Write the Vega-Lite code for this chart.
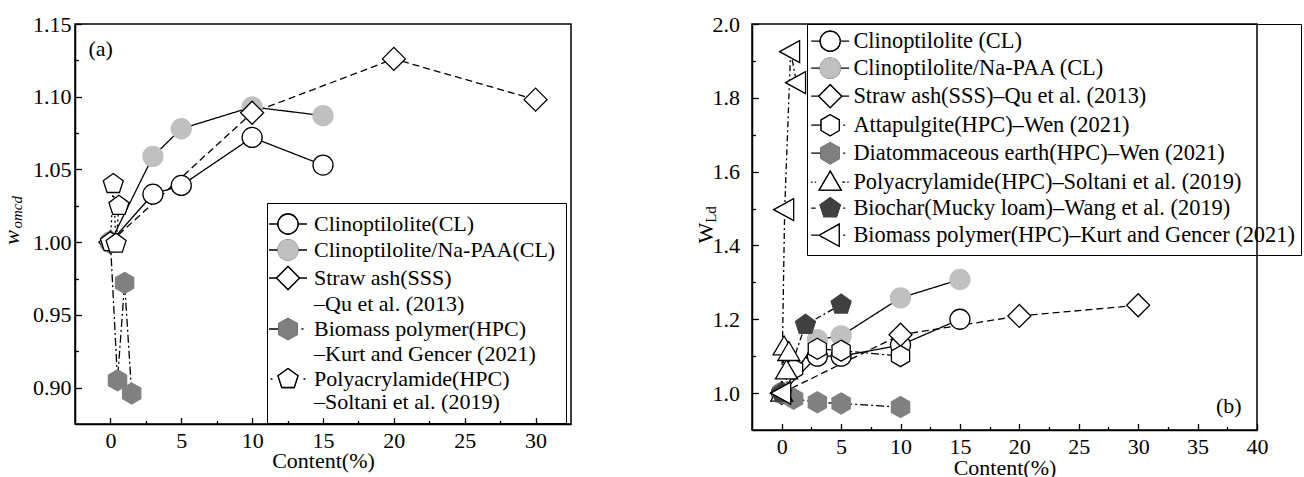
{
  "$schema": "https://vega.github.io/schema/vega-lite/v6.json",
  "background": "white",
  "padding": {"left": 0, "top": 12, "right": 0, "bottom": 0},
  "spacing": 122,
  "config": {
    "font": "Liberation Serif",
    "view": {"stroke": "black", "strokeWidth": 1.5},
    "axis": {
      "domainColor": "black", "domainWidth": 1.5,
      "tickColor": "black", "tickWidth": 1.3,
      "labelColor": "black", "labelFont": "Liberation Serif", "labelFontSize": 22,
      "titleColor": "black", "titleFont": "Liberation Serif", "titleFontSize": 22, "titleFontWeight": "normal",
      "grid": false, "labelFlush": false, "labelOverlap": false
    },
    "legend": {"labelFont": "Liberation Serif", "labelColor": "black", "labelLimit": 0, "title": null},
    "text": {"font": "Liberation Serif", "color": "black"}
  },
  "datasets": {
    "a": [
      {"series": "Clinoptilolite(CL)", "content": 0, "w": 1.0},
      {"series": "Clinoptilolite(CL)", "content": 3, "w": 1.033},
      {"series": "Clinoptilolite(CL)", "content": 5, "w": 1.039},
      {"series": "Clinoptilolite(CL)", "content": 10, "w": 1.072},
      {"series": "Clinoptilolite(CL)", "content": 15, "w": 1.053},
      {"series": "Clinoptilolite/Na-PAA(CL)", "content": 0, "w": 1.0},
      {"series": "Clinoptilolite/Na-PAA(CL)", "content": 3, "w": 1.059},
      {"series": "Clinoptilolite/Na-PAA(CL)", "content": 5, "w": 1.078},
      {"series": "Clinoptilolite/Na-PAA(CL)", "content": 10, "w": 1.093},
      {"series": "Clinoptilolite/Na-PAA(CL)", "content": 15, "w": 1.087},
      {"series": "Straw ash(SSS)", "content": 0, "w": 1.0},
      {"series": "Straw ash(SSS)", "content": 10, "w": 1.089},
      {"series": "Straw ash(SSS)", "content": 20, "w": 1.126},
      {"series": "Straw ash(SSS)", "content": 30, "w": 1.098},
      {"series": "Biomass polymer(HPC)", "content": 0, "w": 1.0},
      {"series": "Biomass polymer(HPC)", "content": 0.5, "w": 0.905},
      {"series": "Biomass polymer(HPC)", "content": 1, "w": 0.972},
      {"series": "Biomass polymer(HPC)", "content": 1.5, "w": 0.896},
      {"series": "Polyacrylamide(HPC)", "content": 0, "w": 1.0},
      {"series": "Polyacrylamide(HPC)", "content": 0.2, "w": 1.04},
      {"series": "Polyacrylamide(HPC)", "content": 0.4, "w": 0.999},
      {"series": "Polyacrylamide(HPC)", "content": 0.6, "w": 1.025}
    ],
    "b": [
      {"series": "Clinoptilolite (CL)", "content": 0, "wld": 1.0},
      {"series": "Clinoptilolite (CL)", "content": 3, "wld": 1.1},
      {"series": "Clinoptilolite (CL)", "content": 5, "wld": 1.1},
      {"series": "Clinoptilolite (CL)", "content": 10, "wld": 1.13},
      {"series": "Clinoptilolite (CL)", "content": 15, "wld": 1.2},
      {"series": "Clinoptilolite/Na-PAA (CL)", "content": 0, "wld": 1.0},
      {"series": "Clinoptilolite/Na-PAA (CL)", "content": 3, "wld": 1.145},
      {"series": "Clinoptilolite/Na-PAA (CL)", "content": 5, "wld": 1.155},
      {"series": "Clinoptilolite/Na-PAA (CL)", "content": 10, "wld": 1.258},
      {"series": "Clinoptilolite/Na-PAA (CL)", "content": 15, "wld": 1.308},
      {"series": "Straw ash(SSS)–Qu et al. (2013)", "content": 0, "wld": 1.0},
      {"series": "Straw ash(SSS)–Qu et al. (2013)", "content": 10, "wld": 1.158},
      {"series": "Straw ash(SSS)–Qu et al. (2013)", "content": 20, "wld": 1.209},
      {"series": "Straw ash(SSS)–Qu et al. (2013)", "content": 30, "wld": 1.238},
      {"series": "Attapulgite(HPC)–Wen (2021)", "content": 0, "wld": 1.0},
      {"series": "Attapulgite(HPC)–Wen (2021)", "content": 1, "wld": 1.065},
      {"series": "Attapulgite(HPC)–Wen (2021)", "content": 3, "wld": 1.12},
      {"series": "Attapulgite(HPC)–Wen (2021)", "content": 5, "wld": 1.115},
      {"series": "Attapulgite(HPC)–Wen (2021)", "content": 10, "wld": 1.1},
      {"series": "Diatommaceous earth(HPC)–Wen (2021)", "content": 0, "wld": 1.0},
      {"series": "Diatommaceous earth(HPC)–Wen (2021)", "content": 1, "wld": 0.985},
      {"series": "Diatommaceous earth(HPC)–Wen (2021)", "content": 3, "wld": 0.975},
      {"series": "Diatommaceous earth(HPC)–Wen (2021)", "content": 5, "wld": 0.972},
      {"series": "Diatommaceous earth(HPC)–Wen (2021)", "content": 10, "wld": 0.962},
      {"series": "Polyacrylamide(HPC)–Soltani et al. (2019)", "content": 0, "wld": 1.0},
      {"series": "Polyacrylamide(HPC)–Soltani et al. (2019)", "content": 0.2, "wld": 1.125},
      {"series": "Polyacrylamide(HPC)–Soltani et al. (2019)", "content": 0.4, "wld": 1.06},
      {"series": "Polyacrylamide(HPC)–Soltani et al. (2019)", "content": 0.6, "wld": 1.11},
      {"series": "Biochar(Mucky loam)–Wang et al. (2019)", "content": 0, "wld": 1.0},
      {"series": "Biochar(Mucky loam)–Wang et al. (2019)", "content": 2, "wld": 1.185},
      {"series": "Biochar(Mucky loam)–Wang et al. (2019)", "content": 5, "wld": 1.24},
      {"series": "Biomass polymer(HPC)–Kurt and Gencer (2021)", "content": 0, "wld": 1.0},
      {"series": "Biomass polymer(HPC)–Kurt and Gencer (2021)", "content": 0.25, "wld": 1.497},
      {"series": "Biomass polymer(HPC)–Kurt and Gencer (2021)", "content": 0.75, "wld": 1.925},
      {"series": "Biomass polymer(HPC)–Kurt and Gencer (2021)", "content": 1.25, "wld": 1.841}
    ]
  },
  "resolve": {
    "scale": {"x": "independent", "y": "independent", "shape": "independent", "fill": "independent", "stroke": "independent", "strokeDash": "independent"},
    "legend": {"shape": "independent", "fill": "independent", "stroke": "independent", "strokeDash": "independent"}
  },
  "hconcat": [
    {
      "width": 496,
      "height": 400,
      "data": {"name": "a"},
      "resolve": {
        "scale": {"shape": "independent", "fill": "independent", "stroke": "independent"},
        "legend": {"shape": "independent", "fill": "independent", "stroke": "independent"},
        "axis": {"x": "independent", "y": "independent"}
      },
      "layer": [
        {
          "mark": {"type": "line", "color": "black", "strokeWidth": 1.3},
          "encoding": {
            "x": {"field": "content", "type": "quantitative",
              "scale": {"domain": [-2.5, 32.5], "nice": false, "zero": false},
              "axis": {"orient": "bottom", "values": [0, 5, 10, 15, 20, 25, 30], "title": "Content(%)", "tickSize": -6.5, "labelPadding": 13, "titlePadding": -1}},
            "y": {"field": "w", "type": "quantitative",
              "scale": {"domain": [0.875, 1.15], "nice": false, "zero": false},
              "axis": {"orient": "left", "values": [0.9, 0.95, 1.0, 1.05, 1.1, 1.15], "format": ".2f", "title": null, "tickSize": -6.5, "labelPadding": 10.5}},
            "order": {"field": "content", "type": "quantitative"},
            "strokeDash": {"field": "series", "type": "nominal", "legend": null,
              "scale": {
                "domain": ["Clinoptilolite(CL)", "Clinoptilolite/Na-PAA(CL)", "Straw ash(SSS)", "Biomass polymer(HPC)", "Polyacrylamide(HPC)"],
                "range": [[1, 0], [1, 0], [7, 4], [8, 3, 2, 3], [2, 3]]
              }
            }
          }
        },
        {
          "mark": {"type": "point", "filled": false, "color": "black", "size": 400, "opacity": 0, "strokeWidth": 1.3},
          "encoding": {
            "x": {"field": "content", "type": "quantitative", "axis": null},
            "y": {"field": "w", "type": "quantitative", "axis": null},
            "shape": {"field": "series", "type": "nominal",
              "scale": {
                "domain": ["Clinoptilolite(CL)", "Clinoptilolite/Na-PAA(CL)", "Straw ash(SSS)", "\u00a0–Qu et al. (2013)", "Biomass polymer(HPC)", "\u00a0–Kurt and Gencer (2021)", "Polyacrylamide(HPC)", "\u00a0–Soltani et al. (2019)"],
                "range": [
                  "M-1.9,0H-1M1,0H1.9M1,0A1,1 0 1,1 -1,0A1,1 0 1,1 1,0Z",
                  "M-1.9,0H-1M1,0H1.9M1,0A1,1 0 1,1 -1,0A1,1 0 1,1 1,0Z",
                  "M-1.9,0H-1.15M1.15,0H1.9M-1.15,0L0,-1.15L1.15,0L0,1.15Z",
                  "M0,0",
                  "M-1.9,0H-0.91M1.35,0H1.55M0,-1.05L0.91,-0.525L0.91,0.525L0,1.05L-0.91,0.525L-0.91,-0.525Z",
                  "M0,0",
                  "M-1.75,0H-1.55M1.55,0H1.75M0,-1.05L1,-0.32L0.62,0.85L-0.62,0.85L-1,-0.32Z",
                  "M0,0"
                ]
              },
              "legend": {
                "orient": "none", "legendX": 192, "legendY": 179, "zindex": 1,
                "padding": 10, "symbolSize": 400, "rowPadding": 0, "symbolStrokeWidth": 1.3,
                "symbolOpacity": 1, "symbolStrokeColor": "black", "symbolFillColor": "transparent",
                "labelFontSize": 22, "labelOffset": 15, "labelOpacity": 0
              }
            }
          }
        },
        {
          "mark": {"type": "point", "filled": true, "size": 400, "opacity": 1, "strokeWidth": 1.3},
          "encoding": {
            "x": {"field": "content", "type": "quantitative",
              "axis": {"orient": "bottom", "values": [2.5, 7.5, 12.5, 17.5, 22.5, 27.5], "labels": false, "domain": false, "title": null, "tickSize": -3.5}},
            "y": {"field": "w", "type": "quantitative",
              "axis": {"orient": "left", "values": [0.925, 0.975, 1.025, 1.075, 1.125], "labels": false, "domain": false, "title": null, "tickSize": -3.5}},
            "shape": {"field": "series", "type": "nominal",
              "scale": {
                "domain": ["Clinoptilolite(CL)", "Clinoptilolite/Na-PAA(CL)", "Straw ash(SSS)", "\u00a0–Qu et al. (2013)", "Biomass polymer(HPC)", "\u00a0–Kurt and Gencer (2021)", "Polyacrylamide(HPC)", "\u00a0–Soltani et al. (2019)"],
                "range": ["circle", "circle", "M-1.15,0L0,-1.15L1.15,0L0,1.15Z", "M0,0", "M0,-1.05L0.91,-0.525L0.91,0.525L0,1.05L-0.91,0.525L-0.91,-0.525Z", "M0,0", "M0,-1.05L1,-0.32L0.62,0.85L-0.62,0.85L-1,-0.32Z", "M0,0"]
              },
              "legend": {
                "orient": "none", "legendX": 192, "legendY": 179, "zindex": 2,
                "padding": 10, "symbolSize": 400, "rowPadding": 0, "symbolStrokeWidth": 1.3, "symbolOpacity": 1,
                "labelFontSize": 22, "labelOffset": 15, "strokeColor": "black"
              }
            },
            "fill": {"field": "series", "type": "nominal",
              "scale": {
                "domain": ["Clinoptilolite(CL)", "Clinoptilolite/Na-PAA(CL)", "Straw ash(SSS)", "\u00a0–Qu et al. (2013)", "Biomass polymer(HPC)", "\u00a0–Kurt and Gencer (2021)", "Polyacrylamide(HPC)", "\u00a0–Soltani et al. (2019)"],
                "range": ["white", "#c0c0c0", "white", "transparent", "#808080", "transparent", "white", "transparent"]
              },
              "legend": {
                "orient": "none", "legendX": 192, "legendY": 179, "zindex": 2,
                "padding": 10, "symbolSize": 400, "rowPadding": 0, "symbolStrokeWidth": 1.3, "symbolOpacity": 1,
                "labelFontSize": 22, "labelOffset": 15, "strokeColor": "black"
              }
            },
            "stroke": {"field": "series", "type": "nominal",
              "scale": {
                "domain": ["Clinoptilolite(CL)", "Clinoptilolite/Na-PAA(CL)", "Straw ash(SSS)", "\u00a0–Qu et al. (2013)", "Biomass polymer(HPC)", "\u00a0–Kurt and Gencer (2021)", "Polyacrylamide(HPC)", "\u00a0–Soltani et al. (2019)"],
                "range": ["black", "#c0c0c0", "black", "transparent", "#808080", "transparent", "black", "transparent"]
              },
              "legend": {
                "orient": "none", "legendX": 192, "legendY": 179, "zindex": 2,
                "padding": 10, "symbolSize": 400, "rowPadding": 0, "symbolStrokeWidth": 1.3, "symbolOpacity": 1,
                "labelFontSize": 22, "labelOffset": 15, "strokeColor": "black"
              }
            }
          }
        },
        {
          "data": {"values": [{}]},
          "mark": {"type": "text", "text": "(a)", "fontSize": 22, "align": "left", "baseline": "middle"},
          "encoding": {
            "x": {"datum": -1.55, "type": "quantitative", "axis": null},
            "y": {"datum": 1.133, "type": "quantitative", "axis": null}
          }
        },
        {
          "data": {"values": [{}]},
          "mark": {"type": "text", "text": "w", "fontSize": 22, "fontStyle": "italic", "angle": 270, "align": "center", "baseline": "middle"},
          "encoding": {
            "x": {"datum": -6.93, "type": "quantitative", "axis": null},
            "y": {"datum": 1.0032, "type": "quantitative", "axis": null}
          }
        },
        {
          "data": {"values": [{}]},
          "mark": {"type": "text", "text": "omcd", "fontSize": 15, "fontStyle": "italic", "angle": 270, "align": "center", "baseline": "middle"},
          "encoding": {
            "x": {"datum": -6.61, "type": "quantitative", "axis": null},
            "y": {"datum": 1.0205, "type": "quantitative", "axis": null}
          }
        }
      ]
    },
    {
      "width": 505,
      "height": 406,
      "data": {"name": "b"},
      "resolve": {
        "scale": {"shape": "independent", "fill": "independent", "stroke": "independent"},
        "legend": {"shape": "independent", "fill": "independent", "stroke": "independent"},
        "axis": {"x": "independent", "y": "independent"}
      },
      "layer": [
        {
          "mark": {"type": "line", "color": "black", "strokeWidth": 1.3},
          "encoding": {
            "x": {"field": "content", "type": "quantitative",
              "scale": {"domain": [-2.5, 40], "nice": false, "zero": false},
              "axis": {"orient": "bottom", "values": [0, 5, 10, 15, 20, 25, 30, 35, 40], "title": "Content(%)", "tickSize": -6.5, "labelPadding": 13, "titlePadding": 0}},
            "y": {"field": "wld", "type": "quantitative",
              "scale": {"domain": [0.9, 2.0], "nice": false, "zero": false},
              "axis": {"orient": "left", "values": [1.0, 1.2, 1.4, 1.6, 1.8, 2.0], "format": ".1f", "title": null, "tickSize": -6.5, "labelPadding": 19}},
            "order": {"field": "content", "type": "quantitative"},
            "strokeDash": {"field": "series", "type": "nominal", "legend": null,
              "scale": {
                "domain": ["Clinoptilolite (CL)", "Clinoptilolite/Na-PAA (CL)", "Straw ash(SSS)–Qu et al. (2013)", "Attapulgite(HPC)–Wen (2021)", "Diatommaceous earth(HPC)–Wen (2021)", "Polyacrylamide(HPC)–Soltani et al. (2019)", "Biochar(Mucky loam)–Wang et al. (2019)", "Biomass polymer(HPC)–Kurt and Gencer (2021)"],
                "range": [[1, 0], [1, 0], [7, 4], [8, 3, 2, 3], [8, 3, 2, 3], [2, 3], [6, 3, 2, 3], [6, 3, 2, 3]]
              }
            }
          }
        },
        {
          "mark": {"type": "point", "filled": false, "color": "black", "size": 400, "opacity": 0, "strokeWidth": 1.3},
          "encoding": {
            "x": {"field": "content", "type": "quantitative", "axis": null},
            "y": {"field": "wld", "type": "quantitative", "axis": null},
            "shape": {"field": "series", "type": "nominal",
              "scale": {
                "domain": ["Clinoptilolite (CL)", "Clinoptilolite/Na-PAA (CL)", "Straw ash(SSS)–Qu et al. (2013)", "Attapulgite(HPC)–Wen (2021)", "Diatommaceous earth(HPC)–Wen (2021)", "Polyacrylamide(HPC)–Soltani et al. (2019)", "Biochar(Mucky loam)–Wang et al. (2019)", "Biomass polymer(HPC)–Kurt and Gencer (2021)"],
                "range": [
                  "M-1.9,0H-1M1,0H1.9M1,0A1,1 0 1,1 -1,0A1,1 0 1,1 1,0Z",
                  "M-1.9,0H-1M1,0H1.9M1,0A1,1 0 1,1 -1,0A1,1 0 1,1 1,0Z",
                  "M-1.9,0H-1.15M1.15,0H1.9M-1.15,0L0,-1.15L1.15,0L0,1.15Z",
                  "M-1.9,0H-0.91M1.3,0H1.5M0,-1.05L0.91,-0.525L0.91,0.525L0,1.05L-0.91,0.525L-0.91,-0.525Z",
                  "M-1.9,0H-0.91M1.3,0H1.5M0,-1.05L0.91,-0.525L0.91,0.525L0,1.05L-0.91,0.525L-0.91,-0.525Z",
                  "M-1.9,0H-1.75M-1.55,0H-1.4M1.2,0H1.5M1.7,0H1.85M0,-1.1L1.1,0.8L-1.1,0.8Z",
                  "M-1.9,0H-1.45M1.3,0H1.5M0,-1.05L1,-0.32L0.62,0.85L-0.62,0.85L-1,-0.32Z",
                  "M-1.9,0H-1.2M1.3,0H1.5M-1.1,0L0.9,-1.1L0.9,1.1Z"
                ]
              },
              "legend": {
                "orient": "none", "legendX": 55, "legendY": 0, "zindex": 1,
                "padding": 6, "symbolOffset": 6, "symbolSize": 400, "rowPadding": 1, "symbolStrokeWidth": 1.3,
                "symbolOpacity": 1, "symbolStrokeColor": "black", "symbolFillColor": "transparent",
                "labelFontSize": 22.4, "labelOffset": 12, "labelOpacity": 0
              }
            }
          }
        },
        {
          "mark": {"type": "point", "filled": true, "size": 400, "opacity": 1, "strokeWidth": 1.3},
          "encoding": {
            "x": {"field": "content", "type": "quantitative",
              "axis": {"orient": "bottom", "values": [2.5, 7.5, 12.5, 17.5, 22.5, 27.5, 32.5, 37.5], "labels": false, "domain": false, "title": null, "tickSize": -3.5}},
            "y": {"field": "wld", "type": "quantitative",
              "axis": {"orient": "left", "values": [1.1, 1.3, 1.5, 1.7, 1.9], "labels": false, "domain": false, "title": null, "tickSize": -3.5}},
            "shape": {"field": "series", "type": "nominal",
              "scale": {
                "domain": ["Clinoptilolite (CL)", "Clinoptilolite/Na-PAA (CL)", "Straw ash(SSS)–Qu et al. (2013)", "Attapulgite(HPC)–Wen (2021)", "Diatommaceous earth(HPC)–Wen (2021)", "Polyacrylamide(HPC)–Soltani et al. (2019)", "Biochar(Mucky loam)–Wang et al. (2019)", "Biomass polymer(HPC)–Kurt and Gencer (2021)"],
                "range": ["circle", "circle", "M-1.15,0L0,-1.15L1.15,0L0,1.15Z", "M0,-1.05L0.91,-0.525L0.91,0.525L0,1.05L-0.91,0.525L-0.91,-0.525Z", "M0,-1.05L0.91,-0.525L0.91,0.525L0,1.05L-0.91,0.525L-0.91,-0.525Z", "M0,-1.1L1.1,0.8L-1.1,0.8Z", "M0,-1.05L1,-0.32L0.62,0.85L-0.62,0.85L-1,-0.32Z", "M-1.1,0L0.9,-1.1L0.9,1.1Z"]
              },
              "legend": {
                "orient": "none", "legendX": 55, "legendY": 0, "zindex": 2,
                "padding": 6, "symbolOffset": 6, "symbolSize": 400, "rowPadding": 1, "symbolStrokeWidth": 1.3, "symbolOpacity": 1,
                "labelFontSize": 22.4, "labelOffset": 12, "strokeColor": "black"
              }
            },
            "fill": {"field": "series", "type": "nominal",
              "scale": {
                "domain": ["Clinoptilolite (CL)", "Clinoptilolite/Na-PAA (CL)", "Straw ash(SSS)–Qu et al. (2013)", "Attapulgite(HPC)–Wen (2021)", "Diatommaceous earth(HPC)–Wen (2021)", "Polyacrylamide(HPC)–Soltani et al. (2019)", "Biochar(Mucky loam)–Wang et al. (2019)", "Biomass polymer(HPC)–Kurt and Gencer (2021)"],
                "range": ["white", "#c0c0c0", "white", "white", "#808080", "white", "#404040", "white"]
              },
              "legend": {
                "orient": "none", "legendX": 55, "legendY": 0, "zindex": 2,
                "padding": 6, "symbolOffset": 6, "symbolSize": 400, "rowPadding": 1, "symbolStrokeWidth": 1.3, "symbolOpacity": 1,
                "labelFontSize": 22.4, "labelOffset": 12, "strokeColor": "black"
              }
            },
            "stroke": {"field": "series", "type": "nominal",
              "scale": {
                "domain": ["Clinoptilolite (CL)", "Clinoptilolite/Na-PAA (CL)", "Straw ash(SSS)–Qu et al. (2013)", "Attapulgite(HPC)–Wen (2021)", "Diatommaceous earth(HPC)–Wen (2021)", "Polyacrylamide(HPC)–Soltani et al. (2019)", "Biochar(Mucky loam)–Wang et al. (2019)", "Biomass polymer(HPC)–Kurt and Gencer (2021)"],
                "range": ["black", "#c0c0c0", "black", "black", "#808080", "black", "#404040", "black"]
              },
              "legend": {
                "orient": "none", "legendX": 55, "legendY": 0, "zindex": 2,
                "padding": 6, "symbolOffset": 6, "symbolSize": 400, "rowPadding": 1, "symbolStrokeWidth": 1.3, "symbolOpacity": 1,
                "labelFontSize": 22.4, "labelOffset": 12, "strokeColor": "black"
              }
            }
          }
        },
        {
          "data": {"values": [{}]},
          "mark": {"type": "text", "text": "(b)", "fontSize": 22, "align": "left", "baseline": "middle"},
          "encoding": {
            "x": {"datum": 36.55, "type": "quantitative", "axis": null},
            "y": {"datum": 0.9657, "type": "quantitative", "axis": null}
          }
        },
        {
          "data": {"values": [{}]},
          "mark": {"type": "text", "text": "W", "fontSize": 22, "angle": 270, "align": "center", "baseline": "middle"},
          "encoding": {
            "x": {"datum": -6.33, "type": "quantitative", "axis": null},
            "y": {"datum": 1.4332, "type": "quantitative", "axis": null}
          }
        },
        {
          "data": {"values": [{}]},
          "mark": {"type": "text", "text": "Ld", "fontSize": 15, "angle": 270, "align": "center", "baseline": "middle"},
          "encoding": {
            "x": {"datum": -5.91, "type": "quantitative", "axis": null},
            "y": {"datum": 1.4838, "type": "quantitative", "axis": null}
          }
        }
      ]
    }
  ]
}
